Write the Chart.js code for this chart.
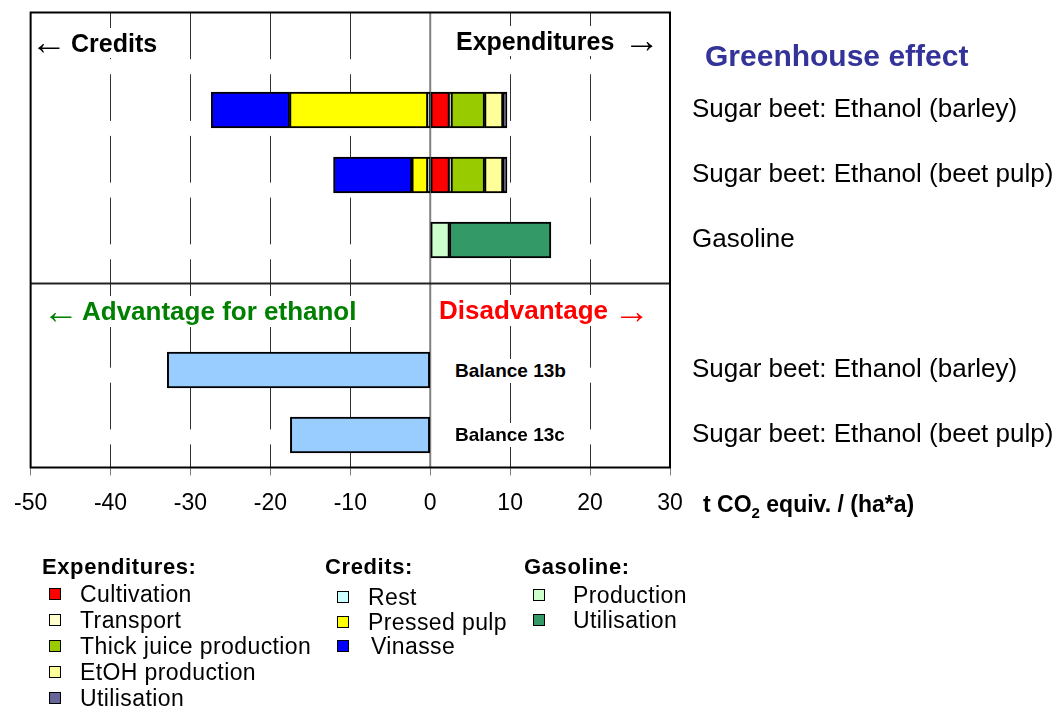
<!DOCTYPE html>
<html>
<head>
<meta charset="utf-8">
<script src="https://cdn.jsdelivr.net/npm/chart.js@4.4.1/dist/chart.umd.min.js"></script>
<style>
body { margin: 0; background: #fff; font-family: "Liberation Sans", Arial, sans-serif; }
#wrap { position: relative; width: 1054px; height: 709px; overflow: hidden; }
#chart { position: absolute; left: 0; top: 0; }
.lbl { position: absolute; white-space: nowrap; background: #fff; font-weight: bold; }
.arr { position: absolute; white-space: nowrap; font-size: 36px; line-height: 36px; font-weight: normal; }
.txt { position: absolute; white-space: nowrap; }
.mark { position: absolute; width: 10px; height: 10px; border: 1.5px solid #000; }
</style>
</head>
<body>
<div id="wrap">
<canvas id="chart" width="1054" height="709"></canvas>

<div class="arr" style="left:31px; top:23.5px;">&larr;</div>
<div class="lbl" style="left:71px; top:27.5px; font-size:25px; line-height:30px;">Credits</div>
<div class="lbl" style="left:456px; top:26px; font-size:25px; line-height:30px;">Expenditures</div>
<div class="arr" style="left:624px; top:22px;">&rarr;</div>
<div class="arr" style="left:43px; top:292.5px; color:#008000;">&larr;</div>
<div class="lbl" style="left:82px; top:295.5px; font-size:26px; line-height:31px; color:#008000;">Advantage for ethanol</div>
<div class="lbl" style="left:439px; top:295px; font-size:26px; line-height:31px; color:#ff0000;">Disadvantage</div>
<div class="arr" style="left:614px; top:292.5px; color:#ff0000;">&rarr;</div>
<div class="lbl" id="bal0" style="left:455px; top:359px; font-size:19px; line-height:24px;"></div>
<div class="lbl" id="bal1" style="left:455px; top:423px; font-size:19px; line-height:24px;"></div>

<div class="txt" style="left:705px; top:38px; font-size:30px; line-height:36px; font-weight:bold; color:#333399;">Greenhouse effect</div>
<div class="txt" style="left:703px; top:490px; font-size:23px; line-height:28px; font-weight:bold;">t CO<sub style="font-size:15px;">2</sub> equiv. / (ha*a)</div>

<div id="legend"></div>
</div>

<script>
// rows of the chart (top to bottom), empty rows hold the text captions
const rowLabels = ["", "Sugar beet: Ethanol (barley)", "Sugar beet: Ethanol (beet pulp)", "Gasoline", "", "Sugar beet: Ethanol (barley)", "Sugar beet: Ethanol (beet pulp)"];

// expenditures, t CO2 equiv. / (ha*a)
const cultivation = [null, 2.4, 2.4, null, null, null, null];
const transport = [null, 0.2, 0.2, null, null, null, null];
const thickJuice = [null, 4.2, 4.2, null, null, null, null];
const etohProd = [null, 2.3, 2.3, null, null, null, null];
const utilisation = [null, 0.5, 0.5, null, null, null, null];

// credits
const rest = [null, -0.3, -0.3, null, null, null, null];
const pressedPulp = [null, -17.3, -2.0, null, null, null, null];
const vinasse = [null, -9.8, -9.8, null, null, null, null];

// gasoline
const gasProduction = [null, null, null, 2.4, null, null, null];
const gasUtilisation = [null, null, null, 12.7, null, null, null];

// balances
const balance = [null, null, null, null, null, -32.9, -17.5];
const balanceNames = ["Balance 13b", "Balance 13c"];

const xTicks = [-50, -40, -30, -20, -10, 0, 10, 20, 30];

const colors = {
    cultivation: "#ff0000",
    transport: "#ffffcc",
    thickJuice: "#99cc00",
    etohProd: "#ffff99",
    utilisation: "#666699",
    rest: "#ccffff",
    pressedPulp: "#ffff00",
    vinasse: "#0000ff",
    gasProduction: "#ccffcc",
    gasUtilisation: "#339966",
    balance: "#99ccff"
};

const font = "'Liberation Sans', Arial, sans-serif";

function makeSet(label, data, color) {
    return {
        label: label,
        data: data,
        backgroundColor: color,
        borderColor: "#000000",
        borderWidth: 2,
        borderSkipped: false,
        barThickness: 36,
        stack: "all"
    };
}

// frame, zero line and the divider between the two blocks
const framePlugin = {
    id: "frame",
    beforeDatasetsDraw(chart) {
        let ctx = chart.ctx;
        let area = chart.chartArea;
        let x0 = chart.scales.x.getPixelForValue(0);
        ctx.save();
        ctx.strokeStyle = "#808080";
        ctx.lineWidth = 2;
        ctx.beginPath();
        ctx.moveTo(x0, area.top);
        ctx.lineTo(x0, area.bottom);
        ctx.stroke();
        ctx.restore();
    },
    afterDatasetsDraw(chart) {
        let ctx = chart.ctx;
        let area = chart.chartArea;
        let yDiv = chart.scales.y.getPixelForValue(3.67);
        ctx.save();
        ctx.strokeStyle = "#222222";
        ctx.lineWidth = 2;
        ctx.beginPath();
        ctx.moveTo(area.left, yDiv);
        ctx.lineTo(area.right, yDiv);
        ctx.stroke();
        ctx.strokeStyle = "#000000";
        ctx.strokeRect(area.left, area.top, area.right - area.left, area.bottom - area.top);
        ctx.restore();
    }
};

function initChart() {
    const ctx = document.getElementById("chart").getContext("2d");

    new Chart(ctx, {
        type: "bar",
        data: {
            labels: rowLabels,
            datasets: [
                makeSet("Cultivation", cultivation, colors.cultivation),
                makeSet("Transport", transport, colors.transport),
                makeSet("Thick juice production", thickJuice, colors.thickJuice),
                makeSet("EtOH production", etohProd, colors.etohProd),
                makeSet("Utilisation", utilisation, colors.utilisation),
                makeSet("Rest", rest, colors.rest),
                makeSet("Pressed pulp", pressedPulp, colors.pressedPulp),
                makeSet("Vinasse", vinasse, colors.vinasse),
                makeSet("Gasoline production", gasProduction, colors.gasProduction),
                makeSet("Gasoline utilisation", gasUtilisation, colors.gasUtilisation),
                makeSet("Balance", balance, colors.balance)
            ]
        },
        options: {
            indexAxis: "y",
            responsive: false,
            animation: false,
            layout: { padding: { left: 27, top: 12.5, right: 0, bottom: 0 } },
            plugins: {
                legend: { display: false },
                tooltip: { enabled: false }
            },
            scales: {
                x: {
                    type: "linear",
                    min: -50,
                    max: 30,
                    stacked: true,
                    afterBuildTicks: (scale) => { scale.ticks = xTicks.map(v => ({ value: v })); },
                    afterFit: (scale) => { scale.height = 709 - 467.5; },
                    ticks: {
                        color: "#000000",
                        padding: 14,
                        font: { family: font, size: 23 }
                    },
                    grid: {
                        color: (c) => {
                            if (c.tick && (c.tick.value === -50 || c.tick.value === 0 || c.tick.value === 30)) {
                                return "rgba(0,0,0,0)";
                            }
                            return "#333333";
                        },
                        lineWidth: 1,
                        tickColor: "#808080",
                        tickLength: 8
                    },
                    border: { display: false, dash: [46.7, 15] }
                },
                y: {
                    type: "category",
                    position: "right",
                    stacked: true,
                    afterFit: (scale) => {
                        scale.width = 1054 - 670;
                        scale.paddingTop = 0;
                        scale.paddingBottom = 0;
                    },
                    ticks: {
                        color: "#000000",
                        padding: 22,
                        font: { family: font, size: 26 }
                    },
                    grid: { display: false, drawTicks: false },
                    border: { display: false }
                }
            }
        },
        plugins: [framePlugin]
    });
}

function addHeading(text, x, yc) {
    let el = document.createElement("div");
    el.className = "txt";
    el.style.cssText = `left:${x}px; top:${yc - 13}px; font-size:22px; line-height:26px; font-weight:bold; letter-spacing:0.6px;`;
    el.textContent = text;
    document.getElementById("legend").appendChild(el);
}

function addItem(text, color, mx, tx, yc) {
    let m = document.createElement("div");
    m.className = "mark";
    m.style.left = mx + "px";
    m.style.top = (yc - 6) + "px";
    m.style.background = color;
    let el = document.createElement("div");
    el.className = "txt";
    el.style.cssText = `left:${tx}px; top:${yc - 13}px; font-size:23px; line-height:26px; letter-spacing:0.4px;`;
    el.textContent = text;
    let lg = document.getElementById("legend");
    lg.appendChild(m);
    lg.appendChild(el);
}

function initLegend() {
    addHeading("Expenditures:", 42, 567);
    addItem("Cultivation", colors.cultivation, 49, 80, 594);
    addItem("Transport", colors.transport, 49, 80, 620);
    addItem("Thick juice production", colors.thickJuice, 49, 80, 646);
    addItem("EtOH production", colors.etohProd, 49, 80, 672);
    addItem("Utilisation", colors.utilisation, 49, 80, 698);

    addHeading("Credits:", 325, 567);
    addItem("Rest", colors.rest, 337, 368, 597);
    addItem("Pressed pulp", colors.pressedPulp, 337, 368, 622);
    addItem("Vinasse", colors.vinasse, 337, 371, 646);

    addHeading("Gasoline:", 524, 567);
    addItem("Production", colors.gasProduction, 533, 573, 595);
    addItem("Utilisation", colors.gasUtilisation, 533, 573, 620);

    document.getElementById("bal0").textContent = balanceNames[0];
    document.getElementById("bal1").textContent = balanceNames[1];
}

initLegend();
initChart();
</script>
</body>
</html>
